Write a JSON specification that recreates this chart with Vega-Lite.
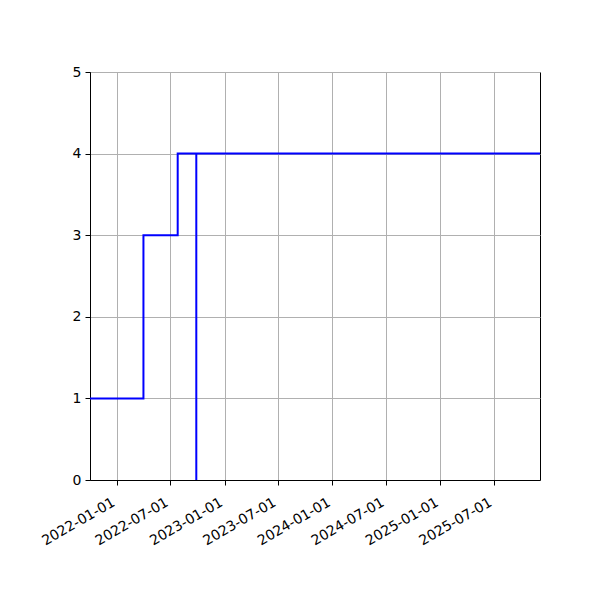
{
  "$schema": "https://vega.github.io/schema/vega-lite/v6.json",
  "autosize": "none",
  "width": 450,
  "height": 408,
  "padding": {"left": 90, "top": 72, "right": 60, "bottom": 120},
  "background": "white",
  "config": {
    "view": {"stroke": "black", "strokeWidth": 1},
    "font": "DejaVu Sans",
    "axis": {
      "domainColor": "black",
      "tickColor": "black",
      "labelColor": "black",
      "labelFontSize": 14,
      "labelFont": "DejaVu Sans",
      "tickSize": 5,
      "gridColor": "#b0b0b0",
      "gridWidth": 1,
      "gridOpacity": 1,
      "labelOverlap": false,
      "title": null
    }
  },
  "data": {
    "values": [
      {"i": 1, "date": "2021-10-02", "value": 1},
      {"i": 2, "date": "2022-04-01", "value": 3},
      {"i": 3, "date": "2022-07-26", "value": 4},
      {"i": 4, "date": "2022-09-27", "value": 0},
      {"i": 5, "date": "2022-09-27", "value": 4},
      {"i": 6, "date": "2025-12-04", "value": 4}
    ]
  },
  "mark": {"type": "line", "interpolate": "step-after", "color": "#0000ff", "strokeWidth": 2, "clip": true},
  "encoding": {
    "x": {
      "field": "date",
      "type": "temporal",
      "scale": {
        "type": "utc",
        "domain": [
          {"year": 2021, "month": 10, "date": 2, "utc": true},
          {"year": 2025, "month": 12, "date": 4, "utc": true}
        ]
      },
      "axis": {
        "values": [
          {"year": 2022, "month": 1, "date": 1, "utc": true},
          {"year": 2022, "month": 7, "date": 1, "utc": true},
          {"year": 2023, "month": 1, "date": 1, "utc": true},
          {"year": 2023, "month": 7, "date": 1, "utc": true},
          {"year": 2024, "month": 1, "date": 1, "utc": true},
          {"year": 2024, "month": 7, "date": 1, "utc": true},
          {"year": 2025, "month": 1, "date": 1, "utc": true},
          {"year": 2025, "month": 7, "date": 1, "utc": true}
        ],
        "format": "%Y-%m-%d",
        "labelAngle": -30,
        "labelAlign": "right",
        "labelBaseline": "top",
        "labelPadding": 10,
        "labelOffset": -7,
        "grid": true
      }
    },
    "y": {
      "field": "value",
      "type": "quantitative",
      "scale": {"domain": [0, 5], "nice": false},
      "axis": {"values": [0, 1, 2, 3, 4, 5], "grid": true, "labelPadding": 4}
    },
    "order": {"field": "i", "type": "quantitative"}
  }
}
